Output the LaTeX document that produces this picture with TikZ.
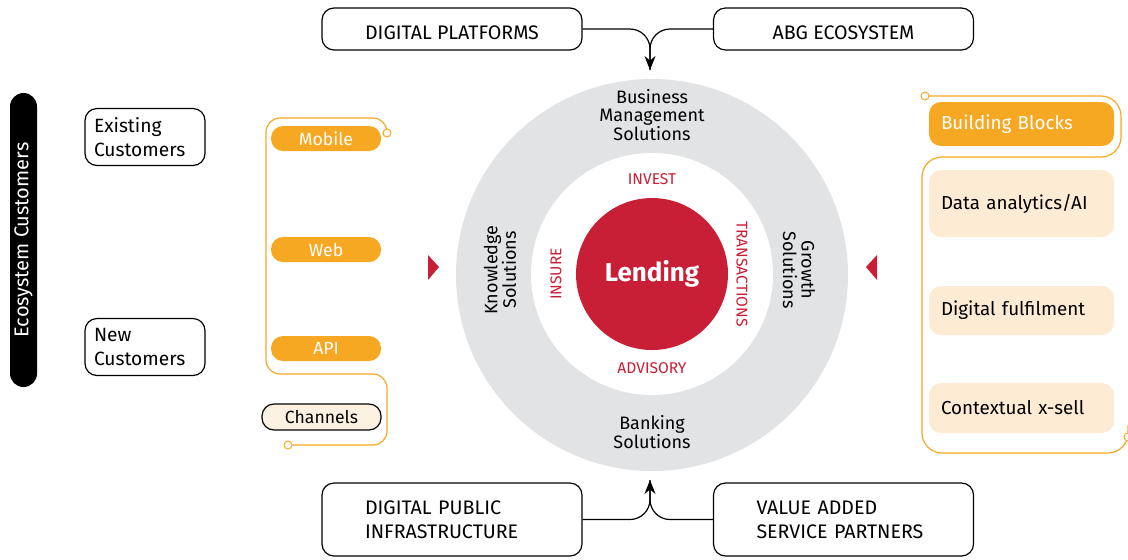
\documentclass[tikz,border=0pt]{standalone}
\usepackage{fontspec}
\setmainfont{Fira Sans}
\usetikzlibrary{positioning, arrows.meta}

\definecolor{abgred}{HTML}{C91F36}
\definecolor{abgorange}{HTML}{F7A823}
\definecolor{abgpeach}{HTML}{FEEBD4}
\definecolor{abgcream}{HTML}{FDF1E2}
\definecolor{abggray}{HTML}{E2E3E5}

\tikzset{
  x=0.5pt, y=-0.5pt, % one unit is one pixel of the layout, y runs down
  >={Stealth[length=7pt, width=5.5pt]}, % filled arrow heads
  every node/.style={font=\fontsize{8.5}{10}\selectfont}, % default text
  outerbox/.style={draw, line width=0.6pt, rounded corners=6pt, minimum width=130pt,
    font=\fontsize{9.8}{12}\selectfont}, % boxes round the ring
  custbox/.style={draw, line width=0.6pt, rounded corners=6pt, minimum width=60pt, minimum height=28.5pt,
    text width=51pt, inner xsep=4.5pt, align=left, font=\fontsize{9.6}{12}\selectfont},
  chan/.style={fill=abgorange, text=white, rounded corners=6pt, minimum width=55pt, minimum height=12.5pt,
    inner sep=0pt, font=\fontsize{8.8}{10}\selectfont},
  block/.style={fill=abgpeach, rounded corners=6pt, minimum width=92.5pt, text width=80.5pt, inner xsep=6pt,
    align=left, font=\fontsize{9.4}{11}\selectfont},
  ringtext/.style={align=center, font=\fontsize{9}{9.2}\selectfont},
  redtext/.style={text=abgred, font=\fontsize{7.8}{8}\selectfont},
  orangeline/.style={draw=abgorange, line width=0.6pt},
  dot/.style={draw=abgorange, fill=white, line width=0.5pt},
  link/.style={line width=0.6pt},
}

\begin{document}
\begin{tikzpicture}
  \useasboundingbox (0,0) rectangle (1128,559);

  % ring
  \node[circle, fill=abggray, minimum size=196pt, inner sep=0pt] (ring) at (652,275) {};
  \node[circle, fill=white, minimum size=121pt, inner sep=0pt] (inner) at (652,274) {};
  \node[circle, fill=abgred, minimum size=76pt, inner sep=0pt, text=white,
    font=\fontsize{13}{14}\selectfont\bfseries] (lending) at (652,274) {Lending};

  \node[ringtext] (bms) at (652,115) {Business\\Management\\Solutions};
  \node[ringtext] (bank) at (652,432) {Banking\\Solutions};
  \node[ringtext, rotate=90] (know) at (500,270) {Knowledge\\Solutions};
  \node[ringtext, rotate=-90] (grow) at (799,270) {Growth\\Solutions};

  \node[redtext] (invest) at (652,179) {INVEST};
  \node[redtext] (advisory) at (652,368) {ADVISORY};
  \node[redtext, rotate=90] (insure) at (556,274) {INSURE};
  \node[redtext, rotate=-90] (trans) at (742,274) {TRANSACTIONS};

  % markers beside the ring
  \fill[abgred] (428,255) -- (439,267) -- (428,280) -- cycle;
  \fill[abgred] (877,255) -- (866,267) -- (877,280) -- cycle;

  % boxes above and below
  \node[outerbox, minimum height=21pt, text height=10pt, text depth=0pt] (dp) at (452,29) {DIGITAL PLATFORMS};
  \node[outerbox, minimum height=21pt, text height=10pt, text depth=0pt] (abg) at (843.5,29) {ABG ECOSYSTEM};
  \node[outerbox, minimum height=36.5pt, text width=87pt, inner xsep=21.5pt, align=left] (dpi) at (452,519.5)
    {DIGITAL PUBLIC\\INFRASTRUCTURE};
  \node[outerbox, minimum height=36.5pt, text width=87pt, inner xsep=21.5pt, align=left] (vas) at (843.5,519.5)
    {VALUE ADDED\\SERVICE PARTNERS};

  \coordinate (toptip) at (650,70);
  \coordinate (bottip) at (650,480);
  \draw[link, rounded corners=10pt] (abg.west) -| (toptip);
  \draw[link, ->, rounded corners=10pt] (dp.east) -| (toptip);
  \draw[link, rounded corners=10pt] (vas.west) -| (bottip);
  \draw[link, ->, rounded corners=10pt] (dpi.east) -| (bottip);

  % customers
  \node[fill=black, text=white, rotate=90, rounded corners=6.75pt, minimum width=147pt,
    minimum height=13.5pt, inner sep=0pt, font=\fontsize{10}{11}\selectfont] (eco) at (23.5,240) {Ecosystem Customers};
  \node[custbox] (existing) at (145,137) {Existing\\Customers};
  \node[custbox] (new) at (145,347) {New\\Customers};

  % channels
  \draw[orangeline, rounded corners=7pt] (387,133) -- (387,118) -- (266,118) -- (266,374)
    -- (387,374) -- (387,445) -- (288,445);
  \draw[dot] (387,133) circle (2pt);
  \draw[dot] (288,445) circle (2pt);
  \node[chan] (mobile) at (326,138.5) {Mobile};
  \node[chan] (web) at (326,249.5) {Web};
  \node[chan] (api) at (326,348.5) {API};
  \node[chan, fill=abgcream, draw, line width=0.6pt, text=black, minimum width=59.5pt,
    minimum height=13pt] (channels) at (321.5,417) {Channels};

  % building blocks
  \draw[orangeline, rounded corners=10pt] (925,96) -- (1121,96) -- (1121,157) -- (922,157)
    -- (922,453) -- (1128,453) -- (1128,425);
  \draw[dot] (925,96) circle (2pt);
  \draw[dot] (1128,437) circle (2pt);
  \node[block, fill=abgorange, text=white, minimum height=22pt] (bb) at (1021.5,124) {Building Blocks};
  \node[block, minimum height=33.5pt] (data) at (1021.5,203.5) {Data analytics/AI};
  \node[block, minimum height=24.5pt] (fulfil) at (1021.5,310.5) {Digital fulfilment};
  \node[block, minimum height=25pt] (xsell) at (1021.5,408) {Contextual x-sell};
\end{tikzpicture}
\end{document}
